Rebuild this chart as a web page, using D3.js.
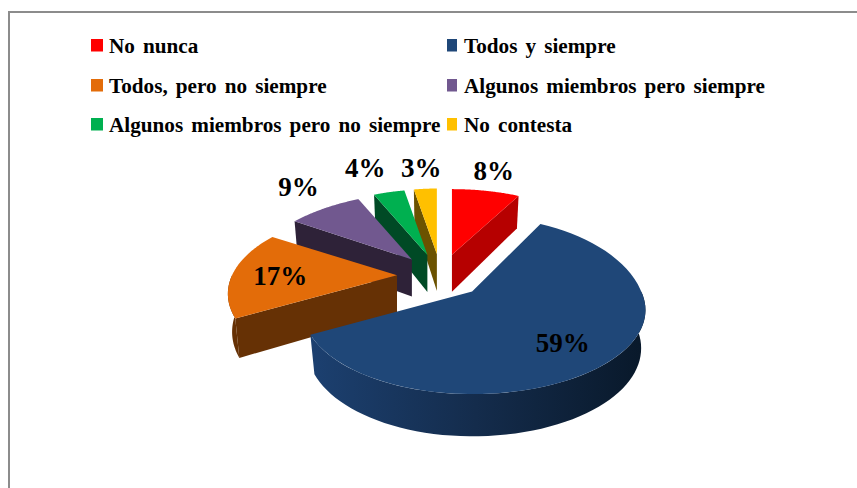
<!DOCTYPE html>
<html>
<head>
<meta charset="utf-8">
<script src="https://cdn.jsdelivr.net/npm/d3@7"></script>
<style>
  html, body { margin: 0; padding: 0; background: #fff; overflow: hidden; }
  text { font-family: "Liberation Serif", serif; font-weight: bold; fill: #000; }
</style>
</head>
<body>
<svg id="chart" width="857" height="488"></svg>
<script>
// data
var categories = ["No nunca", "Todos y siempre", "Todos, pero no siempre",
  "Algunos miembros pero siempre", "Algunos miembros pero no siempre", "No contesta"];
var values = [8, 59, 17, 9, 4, 3];
var labels = ["8%", "59%", "17%", "9%", "4%", "3%"];
var topColors = ["#ff0000", "#1f4778", "#e36c09", "#71588f", "#00b050", "#ffc000"];
var wallColors = ["#b60000", "#142c4c", "#663105", "#2e2238", "#004a25", "#6b5200"];

var svg = d3.select("#chart");

// frame, runs off the right and bottom of the picture
svg.append("path")
  .attr("d", "M9 488V12H857")
  .attr("fill", "none")
  .attr("stroke", "#8c8c8c")
  .attr("stroke-width", 2);

// legend
var legendX = d3.scaleOrdinal().domain([0, 1]).range([91, 447]);
var legendSize = d3.scaleOrdinal().domain([0, 1]).range([12, 10]);
var legendY = d3.scaleOrdinal().domain([0, 1, 2]).range([52, 92, 131]);

var legend = svg.append("g").selectAll("g")
  .data(categories)
  .enter().append("g")
  .attr("transform", function(d, i) {
    return "translate(" + legendX(i % 2) + "," + legendY(Math.floor(i / 2)) + ")";
  });

legend.append("rect")
  .attr("y", -13)
  .attr("width", function(d, i) { return legendSize(i % 2); })
  .attr("height", 12.5)
  .attr("fill", function(d, i) { return topColors[i]; });

legend.append("text")
  .attr("x", function(d, i) { return i % 2 ? 17 : 18; })
  .attr("y", 0.5)
  .attr("font-size", 21.2)
  .attr("word-spacing", 2.8)
  .text(function(d) { return d; });

// pie, projected by hand since d3 has no 3d arcs
var cx = 441, cy = 276, explode = 44, squash = 0.5;
var rx = 165, ry = 80, persp = 0.22, depth = 37, bottomShrink = 0.975;
// the far rim of the picture is not a clean ellipse, so a few slices need a fudge
var farPersp = [0.22, 0.22, 0.22, 0.35, 0.35, 0.35];
var farStretch = [1, 1.15, 1, 1, 1, 1];
var rightScale = [1, 1.025, 1, 1, 1, 1];

var pie = d3.pie().sort(null).value(function(d) { return d; });
var slices = pie(values);
var line = d3.line();

function apex(s) {
  var mid = (s.startAngle + s.endAngle) / 2;
  return [cx + explode * Math.sin(mid), cy - explode * Math.cos(mid) * squash];
}

// point on a slice: angle from 12 o'clock, r 0..1, drop 0 = top face, 1 = bottom face
function project(s, a, r, drop) {
  var o = apex(s);
  var u = r * Math.sin(a), v = r * Math.cos(a);
  var f = 1 / (1 + persp * v);
  var fx = v > 0 ? 1 / (1 + farPersp[s.index] * v) : f;
  var stretch = v > 0 ? farStretch[s.index] : 1;
  var shrink = 1 - drop * (1 - bottomShrink);
  var side = u > 0 ? rightScale[s.index] : 1;
  return [o[0] + u * rx * fx * shrink * side,
    o[1] - v * ry * f * stretch + drop * depth * (1 - 0.14 * v)];
}

function arcPoints(s, a0, a1, drop) {
  return d3.range(0, 61).map(function(i) {
    return project(s, a0 + (a1 - a0) * i / 60, 1, drop);
  });
}

var defs = svg.append("defs");
var grad = defs.append("linearGradient")
  .attr("id", "blueWall")
  .attr("gradientUnits", "userSpaceOnUse")
  .attr("x1", 311).attr("x2", 640).attr("y1", 0).attr("y2", 0);
grad.append("stop").attr("offset", 0).attr("stop-color", "#1c4070");
grad.append("stop").attr("offset", 0.5).attr("stop-color", "#142c4c");
grad.append("stop").attr("offset", 1).attr("stop-color", "#09192b");

// back to front
var order = [5, 4, 3, 0, 2, 1];
var pieG = svg.append("g");

order.forEach(function(i) {
  var s = slices[i];
  var wall = i === 1 ? "url(#blueWall)" : wallColors[i];
  var g = pieG.append("g");

  // radial side that faces the viewer
  [[s.startAngle, Math.sin(s.startAngle) < 0], [s.endAngle, Math.sin(s.endAngle) > 0]]
    .forEach(function(side) {
      if (!side[1]) return;
      g.append("path")
        .attr("d", line([project(s, side[0], 0, 0), project(s, side[0], 1, 0),
          project(s, side[0], 1, 1), project(s, side[0], 0, 1)]) + "Z")
        .attr("fill", wallColors[i]);
    });

  // outer wall, only the part on the near half
  var a0 = Math.max(s.startAngle, Math.PI / 2), a1 = Math.min(s.endAngle, Math.PI * 1.5);
  if (a1 > a0) {
    g.append("path")
      .attr("d", line(arcPoints(s, a0, a1, 0).concat(arcPoints(s, a1, a0, 1))) + "Z")
      .attr("fill", wall);
  }

  // top face
  g.append("path")
    .attr("d", line([project(s, s.startAngle, 0, 0)]
      .concat(arcPoints(s, s.startAngle, s.endAngle, 0))) + "Z")
    .attr("fill", topColors[i]);
});

// data labels, nudged off the rim of each slice
var labelNudge = [[8, -11.3], [-51, -6.2], [47, 12], [-27, -11.7], [-24, -15.3], [-4, -12.2]];

svg.append("g").selectAll("text")
  .data(slices)
  .enter().append("text")
  .attr("text-anchor", "middle")
  .attr("font-size", 27)
  .attr("x", function(s, i) {
    return project(s, (s.startAngle + s.endAngle) / 2, 1, 0)[0] + labelNudge[i][0];
  })
  .attr("y", function(s, i) {
    return project(s, (s.startAngle + s.endAngle) / 2, 1, 0)[1] + labelNudge[i][1];
  })
  .text(function(s, i) { return labels[i]; });
</script>
</body>
</html>
